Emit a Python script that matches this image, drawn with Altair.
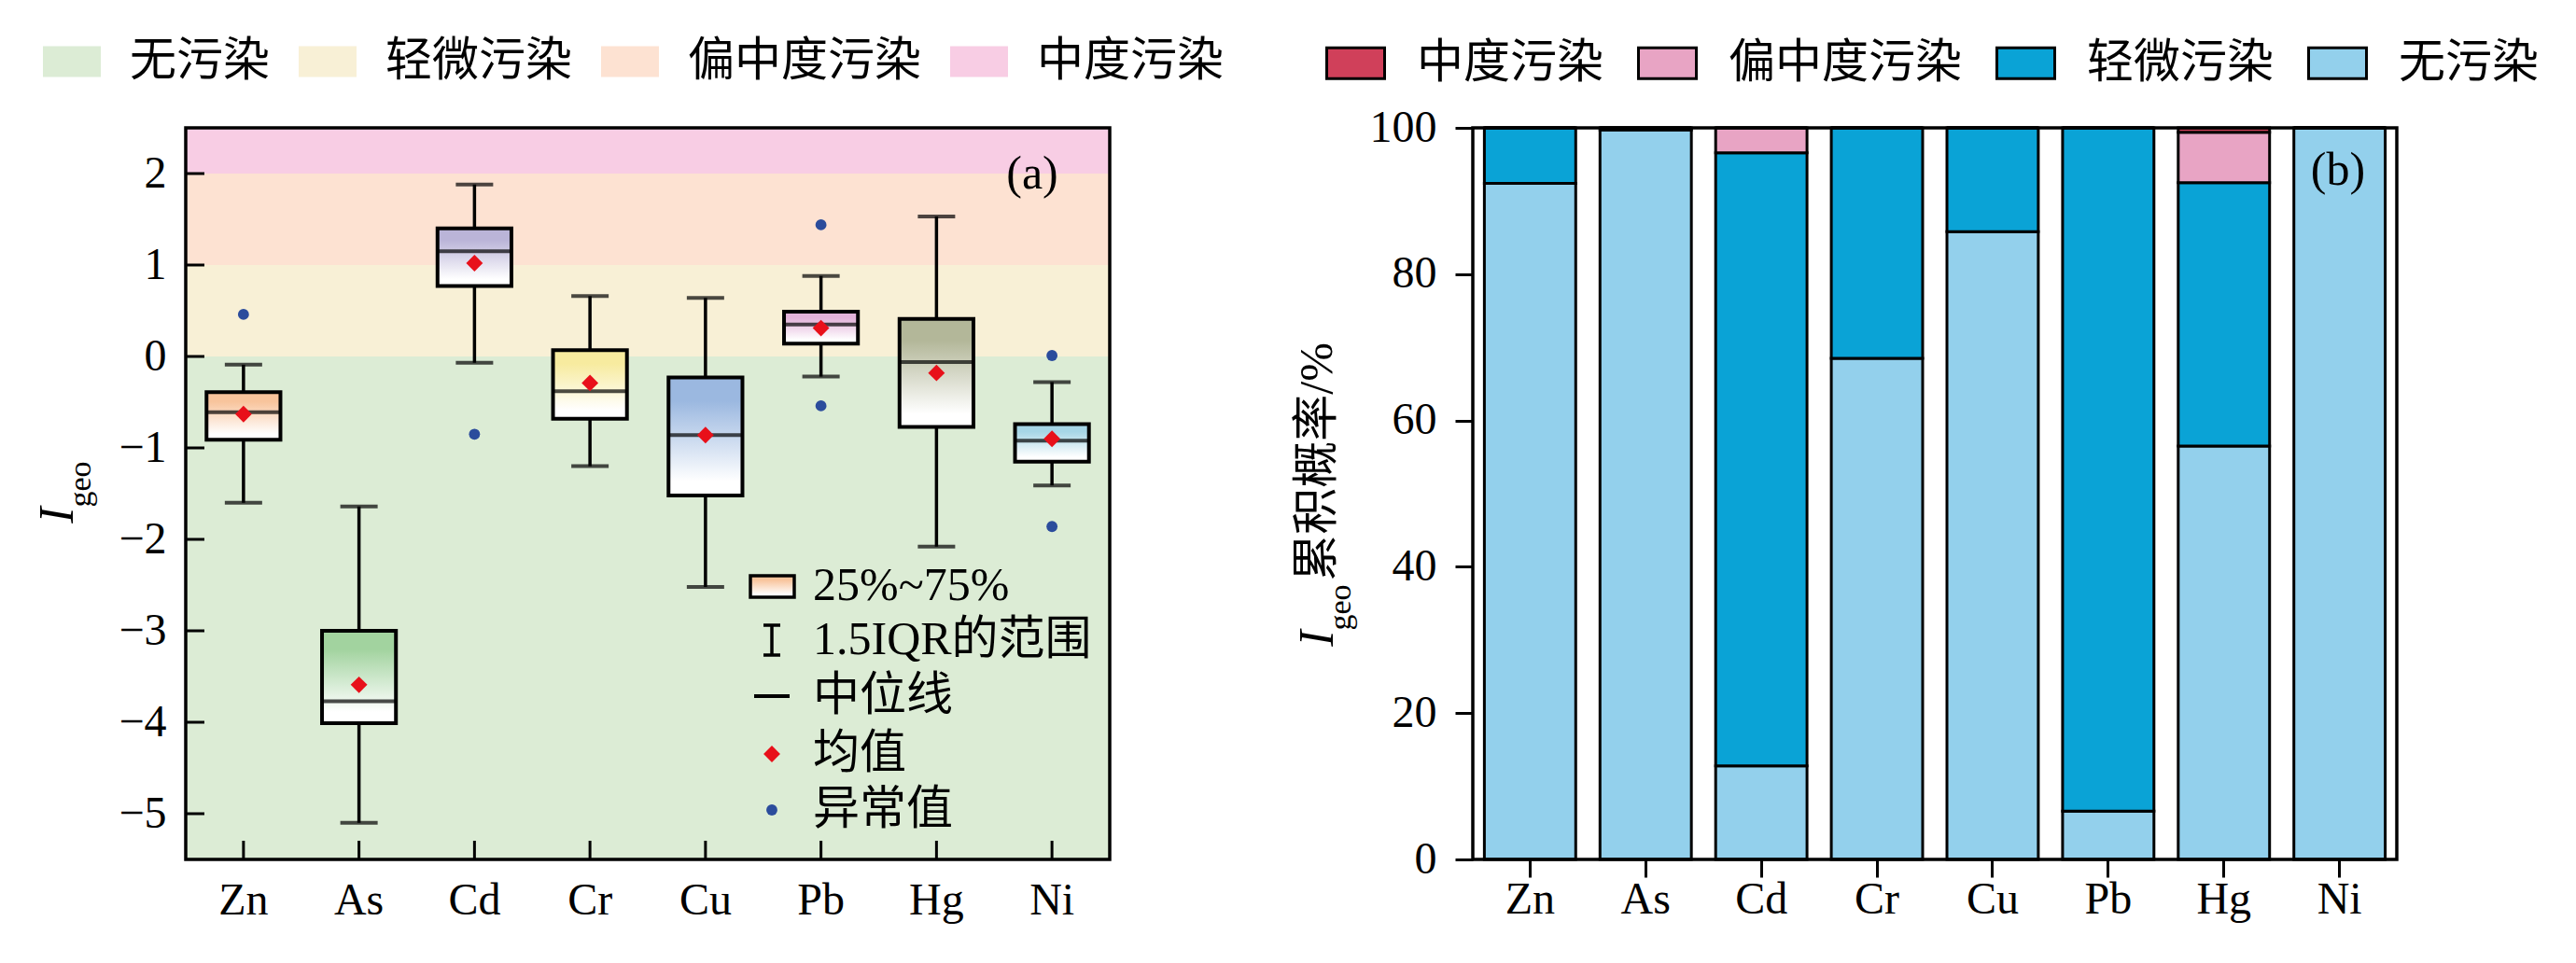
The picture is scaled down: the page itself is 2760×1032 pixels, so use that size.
import altair as alt
import pandas as pd

FONT = "Liberation Serif, Noto Sans CJK SC"

# ---------------- data: panel (a) ----------------
elements = ['Zn', 'As', 'Cd', 'Cr', 'Cu', 'Pb', 'Hg', 'Ni']
whisker_low = [-1.60, -5.10, -0.07, -1.20, -2.52, -0.22, -2.08, -1.41]
q1 = [-0.91, -4.01, 0.77, -0.68, -1.52, 0.14, -0.77, -1.15]
median = [-0.61, -3.77, 1.15, -0.38, -0.86, 0.35, -0.06, -0.92]
q3 = [-0.39, -3.00, 1.40, 0.07, -0.23, 0.49, 0.41, -0.74]
whisker_high = [-0.09, -1.64, 1.88, 0.66, 0.64, 0.88, 1.53, -0.28]
mean = [-0.63, -3.59, 1.02, -0.29, -0.86, 0.31, -0.18, -0.90]
outlier_el = ['Zn', 'Cd', 'Pb', 'Pb', 'Ni', 'Ni']
outlier_val = [0.46, -0.85, 1.44, -0.54, 0.01, -1.86]
box_colors = ['#f8c49c', '#a2d39f', '#bab4d8', '#f7eb9f', '#9bb8e0', '#e2b2d9', '#b3b799', '#a6d6e6']

levels = ['无污染', '轻微污染', '偏中度污染', '中度污染']
level_lo = [-5.5, 0, 1, 2]
level_hi = [0, 1, 2, 2.5]
level_colors = ['#dcecd5', '#f8f0d6', '#fde2d2', '#f8cde4']
y_ticks_a = [-5, -4, -3, -2, -1, 0, 1, 2]

legend_labels = ['25%~75%', '1.5IQR的范围', '中位线', '均值', '异常值']

# ---------------- data: panel (b) ----------------
stack_levels = ['中度污染', '偏中度污染', '轻微污染', '无污染']
stack_colors = ['#d0405a', '#e8a4c4', '#0aa3d6', '#93d0ec']
p_none = [92.4, 99.7, 12.8, 68.5, 85.8, 6.6, 56.5, 100.0]
p_slight = [7.6, 0.3, 83.8, 31.5, 14.2, 93.4, 36.0, 0.0]
p_partial = [0.0, 0.0, 3.4, 0.0, 0.0, 0.0, 6.9, 0.0]
p_moderate = [0.0, 0.0, 0.0, 0.0, 0.0, 0.0, 0.6, 0.0]

W, H = 990, 784

box_df = pd.DataFrame({'el': elements, 'lo': whisker_low, 'q1': q1, 'med': median,
                       'q3': q3, 'hi': whisker_high, 'mean': mean})
out_df = pd.DataFrame({'el': outlier_el, 'v': outlier_val})
band_df = pd.DataFrame({'level': levels, 'lo': level_lo, 'hi': level_hi})
tick_df = pd.DataFrame({'v': y_ticks_a})
one = alt.Data(values=[{'a': 1}])

xa = alt.X('el:N', sort=elements, title=None,
           scale=alt.Scale(domain=elements, paddingInner=0, paddingOuter=0),
           axis=alt.Axis(ticks=False, labelPadding=20, labelAngle=0, domain=False))
ya_scale = alt.Scale(domain=[-5.5, 2.5], nice=False, zero=False)


def grad(c):
    return alt.Gradient(gradient='linear',
                        stops=[alt.GradientStop(color=c, offset=0),
                               alt.GradientStop(color=c, offset=0.2),
                               alt.GradientStop(color='#ffffff', offset=0.88),
                               alt.GradientStop(color='#ffffff', offset=1)],
                        x1=0, x2=0, y1=0, y2=1)


bands = alt.Chart(band_df).mark_rect().encode(
    x=alt.value(0), x2=alt.value(W),
    y=alt.Y('lo:Q', scale=ya_scale, title=None,
            axis=alt.Axis(values=y_ticks_a, format='d', ticks=False, labelPadding=21, domain=False)),
    y2='hi:Q',
    color=alt.Color('level:N', scale=alt.Scale(domain=levels, range=level_colors),
                    legend=alt.Legend(orient='none', legendX=-153, legendY=-102,
                                      direction='horizontal', title=None,
                                      symbolType='M-1,-0.53H1V0.53H-1Z', symbolSize=3844,
                                      symbolStrokeWidth=0, labelFontSize=50, labelFont=FONT,
                                      labelOffset=31, columnPadding=31, labelLimit=500,
                                      labelColor='black'))
)

whisk = alt.Chart(box_df).mark_rule(color='black', strokeWidth=3.5).encode(
    x=xa, y=alt.Y('lo:Q', scale=ya_scale), y2='hi:Q')
cap_lo = alt.Chart(box_df).mark_tick(color='black', size=40, thickness=4).encode(
    x=xa, y=alt.Y('lo:Q', scale=ya_scale))
cap_hi = alt.Chart(box_df).mark_tick(color='black', size=40, thickness=4).encode(
    x=xa, y=alt.Y('hi:Q', scale=ya_scale))

boxes = []
for e, c in zip(elements, box_colors):
    boxes.append(
        alt.Chart(box_df).transform_filter(alt.datum.el == e).mark_bar(
            fill=grad(c), stroke='black', strokeWidth=4, width=alt.RelativeBandSize(0.64)
        ).encode(x=xa, y=alt.Y('q1:Q', scale=ya_scale), y2='q3:Q')
    )

med = alt.Chart(box_df).mark_tick(color='black', size=78, thickness=4).encode(
    x=xa, y=alt.Y('med:Q', scale=ya_scale))
mean_pt = alt.Chart(box_df).mark_point(shape='diamond', filled=True, color='#e8101a',
                                       size=320, opacity=1).encode(
    x=xa, y=alt.Y('mean:Q', scale=ya_scale))
outl = alt.Chart(out_df).mark_circle(color='#2b4c9c', size=140, opacity=1).encode(
    x=alt.X('el:N', sort=elements), y=alt.Y('v:Q', scale=ya_scale))

yticks_in = alt.Chart(tick_df).mark_rule(color='black', strokeWidth=3).encode(
    y=alt.Y('v:Q', scale=ya_scale), x=alt.value(0), x2=alt.value(20))
xticks_in = alt.Chart(box_df).mark_rule(color='black', strokeWidth=3).encode(
    x=xa, y=alt.value(H), y2=alt.value(H - 20))

frame_a = alt.Chart(one).mark_rect(fill='transparent', stroke='black', strokeWidth=3.5).encode(
    x=alt.value(0), x2=alt.value(W), y=alt.value(0), y2=alt.value(H))

# inner legend of panel (a)
leg_rows = [491, 549, 609, 671, 731]
lg = []
lg.append(alt.Chart(one).mark_rect(fill=grad(box_colors[0]), stroke='black', strokeWidth=3.5).encode(
    x=alt.value(605), x2=alt.value(652), y=alt.value(leg_rows[0] - 11), y2=alt.value(leg_rows[0] + 12)))
lg.append(alt.Chart(one).mark_rule(color='black', strokeWidth=3.5).encode(
    x=alt.value(628), y=alt.value(leg_rows[1] - 16), y2=alt.value(leg_rows[1] + 16)))
lg.append(alt.Chart(one).mark_rule(color='black', strokeWidth=3.5).encode(
    x=alt.value(619), x2=alt.value(637), y=alt.value(leg_rows[1] - 16)))
lg.append(alt.Chart(one).mark_rule(color='black', strokeWidth=3.5).encode(
    x=alt.value(619), x2=alt.value(637), y=alt.value(leg_rows[1] + 16)))
lg.append(alt.Chart(one).mark_rule(color='black', strokeWidth=4).encode(
    x=alt.value(609), x2=alt.value(647), y=alt.value(leg_rows[2])))
lg.append(alt.Chart(one).mark_point(shape='diamond', filled=True, color='#e8101a', size=320, opacity=1).encode(
    x=alt.value(628), y=alt.value(leg_rows[3])))
lg.append(alt.Chart(one).mark_circle(color='#2b4c9c', size=140, opacity=1).encode(
    x=alt.value(628), y=alt.value(leg_rows[4])))
for lab, yy in zip(legend_labels, leg_rows):
    lg.append(alt.Chart(one).mark_text(text=lab, font=FONT, fontSize=50, align='left',
                                       baseline='middle', color='black').encode(
        x=alt.value(672), y=alt.value(yy)))

label_a = alt.Chart(one).mark_text(text='(a)', font=FONT, fontSize=50, align='center',
                                   baseline='middle', color='black').encode(
    x=alt.value(907), y=alt.value(50))
ytitle_a = [
    alt.Chart(one).mark_text(text='I', font=FONT, fontSize=52, fontStyle='italic', angle=270,
                             align='center', baseline='middle', color='black').encode(
        x=alt.value(-137), y=alt.value(415)),
    alt.Chart(one).mark_text(text='geo', font=FONT, fontSize=34, angle=270,
                             align='center', baseline='middle', color='black').encode(
        x=alt.value(-112), y=alt.value(382)),
]

panel_a = alt.layer(bands, whisk, cap_lo, cap_hi, *boxes, med, mean_pt, outl,
                    yticks_in, xticks_in, frame_a, *lg, label_a, *ytitle_a
                    ).properties(width=W, height=H)

# ---------------- panel (b) ----------------
rows = []
for i, e in enumerate(elements):
    for lev, vals, rank in [('无污染', p_none, 0), ('轻微污染', p_slight, 1),
                            ('偏中度污染', p_partial, 2), ('中度污染', p_moderate, 3)]:
        rows.append({'el': e, 'level': lev, 'p': vals[i], 'rank': rank})
stack_df = pd.DataFrame(rows)

xb = alt.X('el:N', sort=elements, title=None,
           scale=alt.Scale(domain=elements, paddingInner=0.21, paddingOuter=0.1),
           axis=alt.Axis(tickSize=19, labelPadding=0, labelAngle=0, domain=False))

bars = alt.Chart(stack_df).mark_bar(stroke='black', strokeWidth=3).encode(
    x=xb,
    y=alt.Y('p:Q', stack='zero', title=None,
            scale=alt.Scale(domain=[0, 100], nice=False),
            axis=alt.Axis(values=[0, 20, 40, 60, 80, 100], tickSize=19, labelPadding=20, domain=False)),
    color=alt.Color('level:N', scale=alt.Scale(domain=stack_levels, range=stack_colors),
                    legend=alt.Legend(orient='none', legendX=-158, legendY=-102,
                                      direction='horizontal', title=None,
                                      symbolType='M-1,-0.53H1V0.53H-1Z', symbolSize=3844,
                                      symbolStrokeColor='black', symbolStrokeWidth=3,
                                      labelFontSize=50, labelFont=FONT, labelOffset=33,
                                      columnPadding=31, labelLimit=500, labelColor='black')),
    order=alt.Order('rank:Q', sort='ascending')
)

frame_b = alt.Chart(one).mark_rect(fill='transparent', stroke='black', strokeWidth=3.5).encode(
    x=alt.value(0), x2=alt.value(W), y=alt.value(0), y2=alt.value(H))
label_b = alt.Chart(one).mark_text(text='(b)', font=FONT, fontSize=50, align='center',
                                   baseline='middle', color='black').encode(
    x=alt.value(927), y=alt.value(46))
ytitle_b = [
    alt.Chart(one).mark_text(text='I', font=FONT, fontSize=52, fontStyle='italic', angle=270,
                             align='center', baseline='middle', color='black').encode(
        x=alt.value(-166), y=alt.value(547)),
    alt.Chart(one).mark_text(text='geo', font=FONT, fontSize=34, angle=270,
                             align='center', baseline='middle', color='black').encode(
        x=alt.value(-141), y=alt.value(514)),
    alt.Chart(one).mark_text(text='累积概率/%', font=FONT, fontSize=50, angle=270,
                             align='center', baseline='middle', color='black').encode(
        x=alt.value(-166), y=alt.value(358)),
]

panel_b = alt.layer(bars, frame_b, label_b, *ytitle_b).properties(width=W, height=H)

chart = alt.hconcat(panel_a, panel_b, spacing=75).resolve_scale(
    color='independent', x='independent', y='independent'
).resolve_legend(color='independent').properties(
    padding={'left': 28, 'top': 27, 'right': 0, 'bottom': 4}
).configure_view(stroke=None).configure_axis(
    labelFont=FONT, labelFontSize=48, labelColor='black', tickColor='black',
    tickWidth=3, grid=False
)

chart.save("out.html", embed_options={"renderer": "svg", "actions": False})
